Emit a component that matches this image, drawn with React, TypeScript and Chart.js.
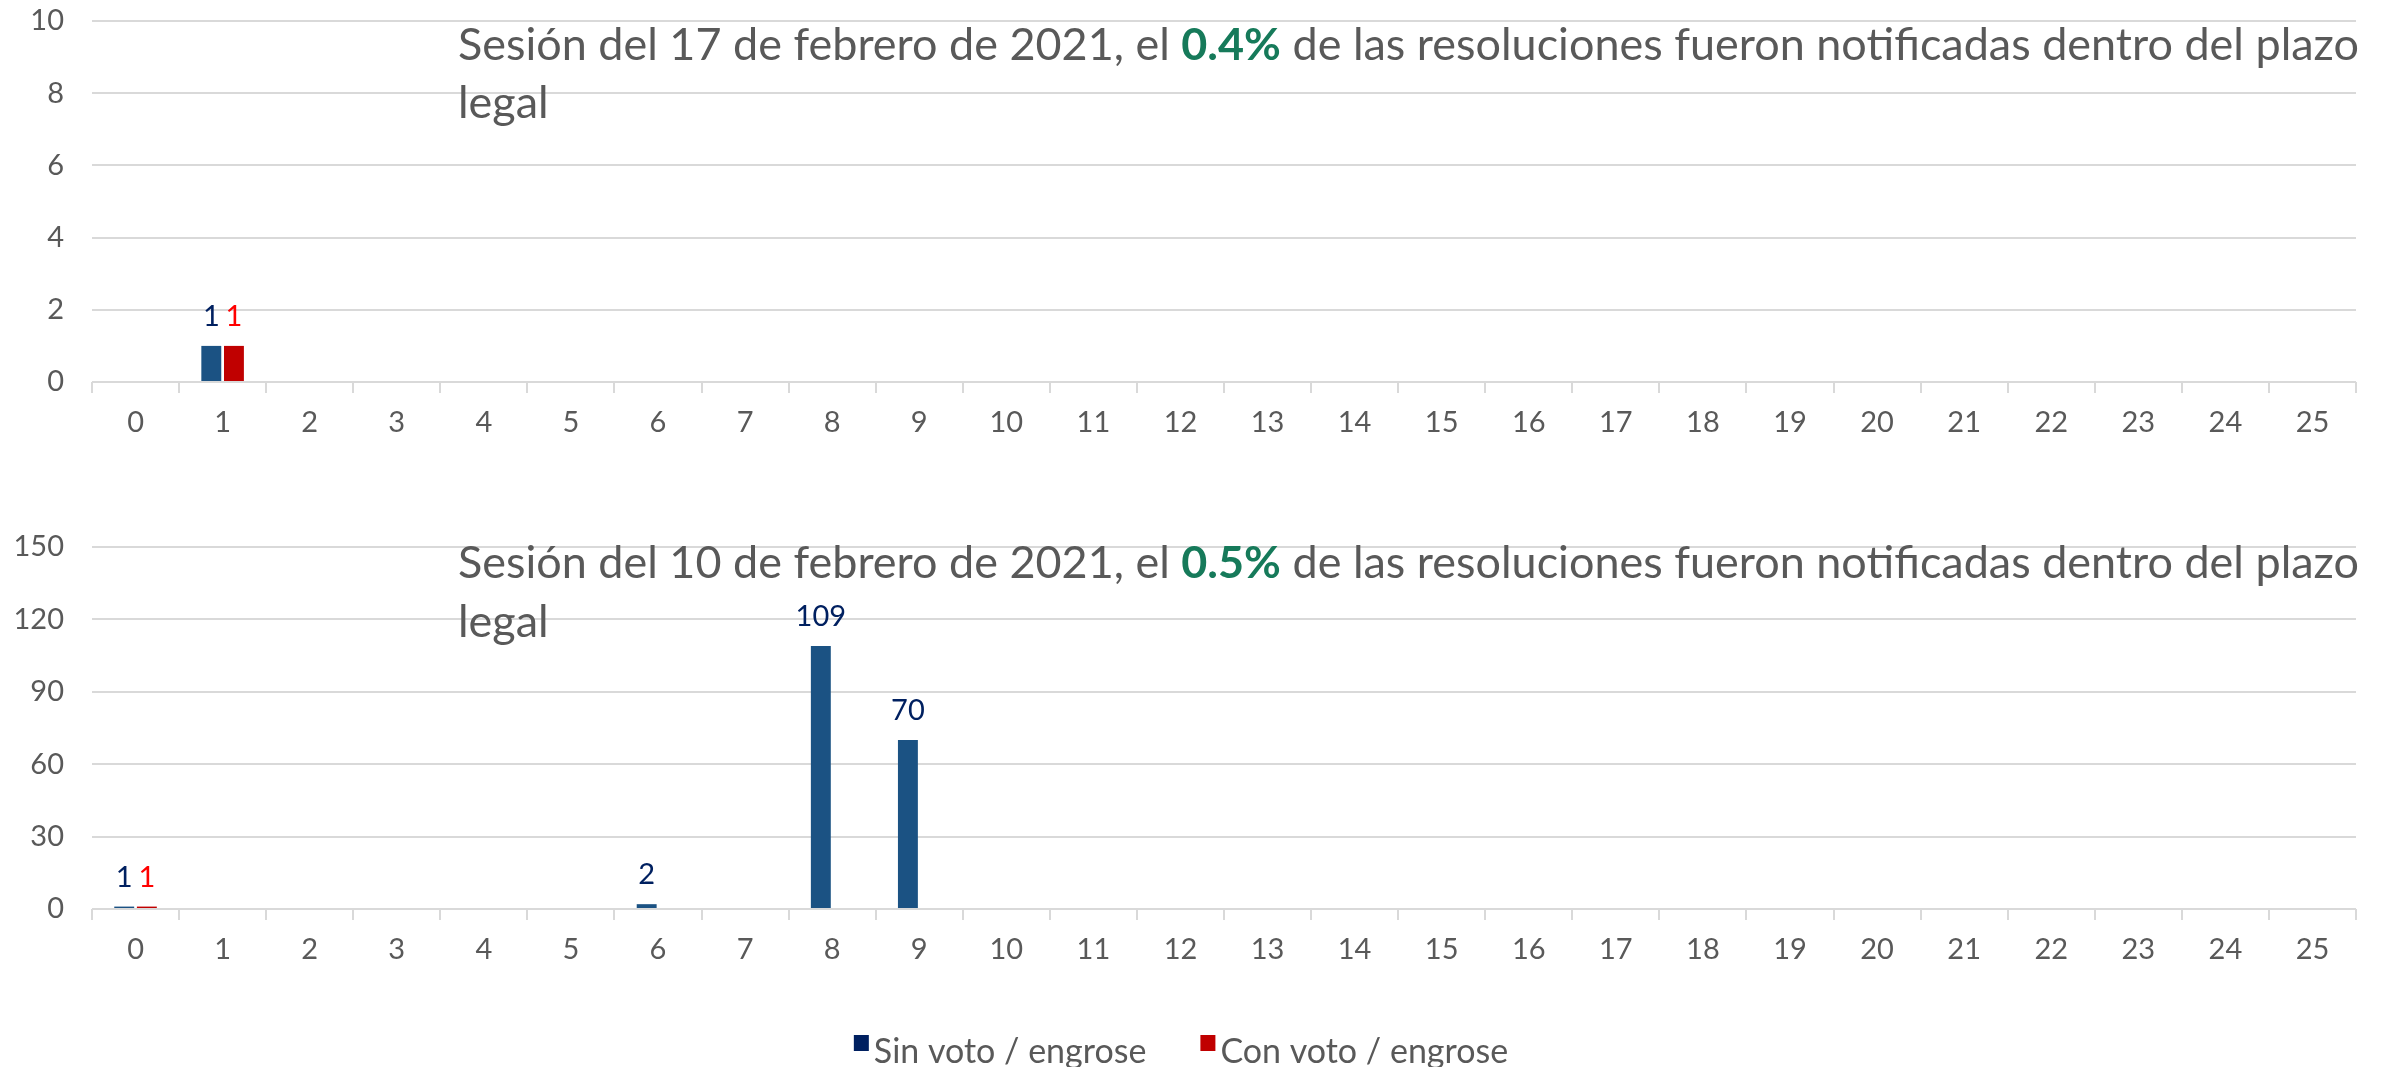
import { useEffect, useRef } from "react";
import { Chart, registerables } from "chart.js";

Chart.register(...registerables);

// ---------- DATA ----------
const categories = ["0","1","2","3","4","5","6","7","8","9","10","11","12","13","14","15","16","17","18","19","20","21","22","23","24","25"];
const seriesNames = ["Sin voto / engrose", "Con voto / engrose"];

// Sesión del 17 de febrero de 2021
const feb17SinVoto = [0,1,0,0,0,0,0,0,0,0,0,0,0,0,0,0,0,0,0,0,0,0,0,0,0,0];
const feb17ConVoto = [0,1,0,0,0,0,0,0,0,0,0,0,0,0,0,0,0,0,0,0,0,0,0,0,0,0];
const feb17YMax = 10;
const feb17YStep = 2;
const feb17Title = ["Sesión del 17 de febrero de 2021, el ", "0.4%", " de las resoluciones fueron notificadas dentro del plazo", "legal"];

// Sesión del 10 de febrero de 2021
const feb10SinVoto = [1,0,0,0,0,0,2,0,109,70,0,0,0,0,0,0,0,0,0,0,0,0,0,0,0,0];
const feb10ConVoto = [1,0,0,0,0,0,0,0,0,0,0,0,0,0,0,0,0,0,0,0,0,0,0,0,0,0];
const feb10YMax = 150;
const feb10YStep = 30;
const feb10Title = ["Sesión del 10 de febrero de 2021, el ", "0.5%", " de las resoluciones fueron notificadas dentro del plazo", "legal"];

// ---------- STYLE ----------
const FONT = "Lato";
const GRAY = "#595959";
const GRID = "#D9D9D9";
const BAR_COLORS = ["#1B5283", "#C00000"];
const LABEL_COLORS = ["#002060", "#FF0000"];
const LEGEND_COLORS = ["#002060", "#C00000"];
const HIGHLIGHT = "#167A5A";

type PanelProps = {
  top: number;
  height: number;
  sin: number[];
  con: number[];
  yMax: number;
  yStep: number;
  title: string[];
  padTop: number;
  xAxisH: number;
  titleY1: number;
  titleY2: number;
  legend: boolean;
};

const dataLabelPlugin = {
  id: "dataLabels",
  afterDatasetsDraw(chart: any) {
    const ctx = chart.ctx;
    ctx.save();
    ctx.font = `29px ${FONT}`;
    ctx.textAlign = "center";
    ctx.textBaseline = "alphabetic";
    chart.data.datasets.forEach((ds: any, di: number) => {
      const meta = chart.getDatasetMeta(di);
      meta.data.forEach((el: any, i: number) => {
        const v = ds.data[i];
        if (!v) return;
        ctx.fillStyle = LABEL_COLORS[di];
        ctx.fillText(String(v), el.x, el.y - 20);
      });
    });
    ctx.restore();
  },
};

function makeTitlePlugin(title: string[], y1: number, y2: number) {
  return {
    id: "panelTitle",
    afterDraw(chart: any) {
      const ctx = chart.ctx;
      const x0 = 458;
      const target = 1901;
      ctx.save();
      const normal = `44px ${FONT}`;
      const bold = `bold 44px ${FONT}`;
      ctx.font = normal;
      const w1 = ctx.measureText(title[0]).width;
      const w3 = ctx.measureText(title[2]).width;
      ctx.font = bold;
      const w2 = ctx.measureText(title[1]).width;
      const total = w1 + w2 + w3;
      let sx = target / total;
      sx = Math.max(0.85, Math.min(1.15, sx));
      ctx.translate(x0, 0);
      ctx.scale(sx, 1);
      ctx.textBaseline = "alphabetic";
      ctx.textAlign = "left";
      ctx.font = normal;
      ctx.fillStyle = GRAY;
      ctx.fillText(title[0], 0, y1);
      ctx.font = bold;
      ctx.fillStyle = HIGHLIGHT;
      ctx.fillText(title[1], w1, y1);
      ctx.font = normal;
      ctx.fillStyle = GRAY;
      ctx.fillText(title[2], w1 + w2, y1);
      ctx.fillText(title[3], 0, y2);
      ctx.restore();
    },
  };
}

function makeLegendPlugin(boxTop: number, baseline: number) {
  return {
    id: "panelLegend",
    afterDraw(chart: any) {
      const ctx = chart.ctx;
      ctx.save();
      ctx.font = `34px ${FONT}`;
      ctx.textBaseline = "alphabetic";
      ctx.textAlign = "left";
      const boxW = 15;
      const boxH = 16;
      const gap = 5;
      const itemGap = 54;
      const names = chart.data.datasets.map((d: any) => d.label);
      const widths = names.map((n: string) => ctx.measureText(n).width);
      let total = 0;
      widths.forEach((w: number, i: number) => {
        total += boxW + gap + w + (i < widths.length - 1 ? itemGap : 0);
      });
      let x = 1181 - total / 2;
      names.forEach((n: string, i: number) => {
        ctx.fillStyle = LEGEND_COLORS[i];
        ctx.fillRect(x, boxTop, boxW, boxH);
        ctx.fillStyle = GRAY;
        ctx.fillText(n, x + boxW + gap, baseline);
        x += boxW + gap + widths[i] + itemGap;
      });
      ctx.restore();
    },
  };
}

function Panel(p: PanelProps) {
  const ref = useRef<HTMLCanvasElement | null>(null);
  useEffect(() => {
    if (!ref.current) return;
    const plugins: any[] = [dataLabelPlugin, makeTitlePlugin(p.title, p.titleY1, p.titleY2)];
    if (p.legend) plugins.push(makeLegendPlugin(565, 593));
    const chart = new Chart(ref.current, {
      type: "bar",
      data: {
        labels: categories,
        datasets: [
          { label: seriesNames[0], data: p.sin, backgroundColor: BAR_COLORS[0], categoryPercentage: 0.52, barPercentage: 0.88 },
          { label: seriesNames[1], data: p.con, backgroundColor: BAR_COLORS[1], categoryPercentage: 0.52, barPercentage: 0.88 },
        ],
      },
      options: {
        responsive: false,
        maintainAspectRatio: false,
        animation: false,
        layout: { padding: { top: p.padTop, right: 39, left: 0, bottom: 0 } },
        plugins: {
          legend: { display: false },
          tooltip: { enabled: false },
          title: { display: false },
        },
        scales: {
          x: {
            grid: { drawOnChartArea: false, drawTicks: true, tickLength: 11, color: GRID, lineWidth: 2, offset: true },
            border: { display: false },
            ticks: { color: GRAY, font: { family: FONT, size: 29 }, padding: 12, maxRotation: 0, autoSkip: false },
            afterFit: (s: any) => { s.height = p.xAxisH; },
          },
          y: {
            min: 0,
            max: p.yMax,
            ticks: { stepSize: p.yStep, color: GRAY, font: { family: FONT, size: 29 }, padding: 28 },
            grid: { color: GRID, lineWidth: 2, drawTicks: false },
            border: { display: false },
            afterFit: (s: any) => { s.width = 92; s.paddingTop = 0; s.paddingBottom = 0; },
          },
        },
      } as any,
      plugins,
    });
    return () => chart.destroy();
  }, []);
  return (
    <canvas
      ref={ref}
      width={2395}
      height={p.height}
      style={{ position: "absolute", left: 0, top: p.top, width: 2395, height: p.height, display: "block" }}
    />
  );
}

export default function App() {
  return (
    <div style={{ position: "fixed", left: 0, top: 0, width: 2395, height: 1067, overflow: "hidden", background: "#fff" }}>
      <Panel top={0} height={470} sin={feb17SinVoto} con={feb17ConVoto} yMax={feb17YMax} yStep={feb17YStep}
        title={feb17Title} padTop={21} xAxisH={88} titleY1={60} titleY2={118} legend={false} />
      <Panel top={470} height={597} sin={feb10SinVoto} con={feb10ConVoto} yMax={feb10YMax} yStep={feb10YStep}
        title={feb10Title} padTop={77} xAxisH={158} titleY1={108} titleY2={167} legend={true} />
    </div>
  );
}
